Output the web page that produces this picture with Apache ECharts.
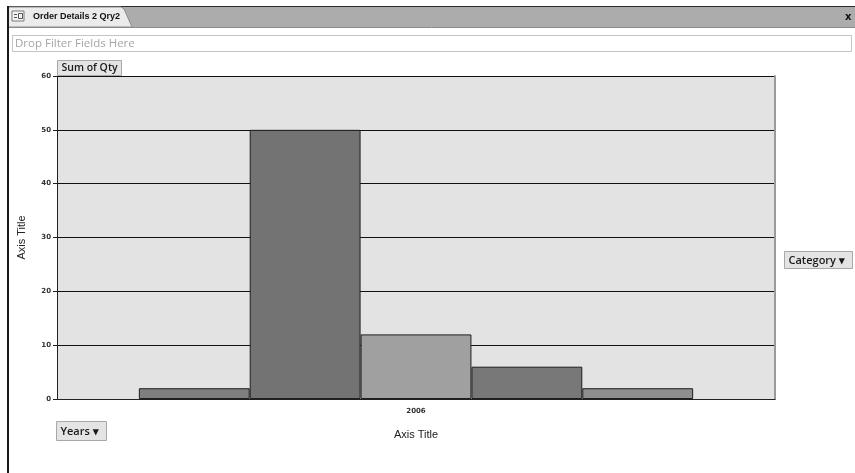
<!DOCTYPE html>
<html>
<head>
<meta charset="utf-8">
<script src="https://cdn.jsdelivr.net/npm/echarts@6/dist/echarts.min.js"></script>
<style>
html,body{margin:0;padding:0;background:#fff;}
#chart{width:855px;height:473px;}
</style>
</head>
<body>
<div id="chart"></div>
<script>
// ---- data ----
var categories = ['2006'];
var seriesNames = ['Category 1', 'Category 2', 'Category 3', 'Category 4', 'Category 5'];
var seriesValues = [[2], [50], [12], [6], [2]];
var seriesColors = ['#7f7f7f', '#737373', '#a0a0a0', '#787878', '#8f8f8f'];
var yTicks = { min: 0, max: 60, interval: 10 };
var axisTitleX = 'Axis Title';
var axisTitleY = 'Axis Title';
var tabTitle = 'Order Details 2 Qry2';
var filterText = 'Drop Filter Fields Here';
var dataFieldLabel = 'Sum of Qty';
var seriesFieldLabel = 'Category \u25BE';
var categoryFieldLabel = 'Years \u25BE';

var chart = echarts.init(document.getElementById('chart'), null, { renderer: 'canvas' });

var series = seriesNames.map(function (name, i) {
  return {
    name: name,
    type: 'bar',
    data: seriesValues[i],
    barGap: '0%',
    barCategoryGap: '22.8%',
    itemStyle: { color: seriesColors[i], borderColor: '#1e1e1e', borderWidth: 1 },
    emphasis: { disabled: true }
  };
});

var labelFont = { fontFamily: 'DejaVu Sans', fontSize: 7, color: '#333', fontWeight: 'bold' };

function button(x, y, w, h, text, fontSize) {
  return [
    { type: 'rect', shape: { x: x, y: y, width: w, height: h },
      style: { fill: '#e4e4e4', stroke: '#a8a8a8', lineWidth: 1 }, z: 10 },
    { type: 'text', x: x + 4, y: y + h / 2 + 0.5,
      style: { text: text, fontFamily: 'Open Sans', fontSize: fontSize, fontWeight: 600,
        fill: '#1a1a1a', textVerticalAlign: 'middle', verticalAlign: 'middle' }, z: 11 }
  ];
}

var graphics = [
  // tab bar
  { type: 'rect', shape: { x: 8, y: 6, width: 847, height: 21 }, style: { fill: '#acacac' } },
  { type: 'line', shape: { x1: 7, y1: 6.5, x2: 855, y2: 6.5 }, style: { stroke: '#2a2a2a', lineWidth: 1 } },
  { type: 'line', shape: { x1: 8, y1: 27.5, x2: 855, y2: 27.5 }, style: { stroke: '#8a8a8a', lineWidth: 1 } },
  { type: 'polygon', shape: { points: [[8, 7], [121, 7], [124, 9], [132, 27], [8, 27]] },
    style: { fill: '#ebebeb', stroke: '#8c8c8c', lineWidth: 1 } },
  // icon
  { type: 'rect', shape: { x: 12, y: 11, width: 12, height: 10 }, style: { fill: '#f4f4f4', stroke: '#7a7a7a', lineWidth: 1 } },
  { type: 'line', shape: { x1: 14, y1: 14.5, x2: 17, y2: 14.5 }, style: { stroke: '#555' } },
  { type: 'line', shape: { x1: 14, y1: 17.5, x2: 17, y2: 17.5 }, style: { stroke: '#555' } },
  { type: 'rect', shape: { x: 18.5, y: 13.5, width: 4, height: 5 }, style: { fill: 'none', stroke: '#555' } },
  { type: 'text', x: 33, y: 17, style: { text: tabTitle, fontFamily: 'Liberation Sans', fontSize: 9, fontWeight: 'bold',
      fill: '#111', verticalAlign: 'middle', textVerticalAlign: 'middle' } },
  { type: 'text', x: 845, y: 17, style: { text: 'x', fontFamily: 'DejaVu Sans', fontSize: 10, fontWeight: 'bold',
      fill: '#111', verticalAlign: 'middle', textVerticalAlign: 'middle' } },
  // left window border
  { type: 'rect', shape: { x: 7, y: 6, width: 2, height: 467 }, style: { fill: '#1a1a1a' } },
  // filter box
  { type: 'rect', shape: { x: 12.5, y: 35.5, width: 839, height: 16 }, style: { fill: '#fff', stroke: '#c4c4c4', lineWidth: 1 } },
  { type: 'text', x: 15, y: 44, style: { text: filterText, fontFamily: 'Open Sans', fontSize: 11.5,
      fill: '#a5a5a5', verticalAlign: 'middle', textVerticalAlign: 'middle' } }
]
.concat(button(57.5, 60.5, 64, 15, dataFieldLabel, 10.5))
.concat(button(784.5, 251.5, 68, 17, seriesFieldLabel, 11))
.concat(button(56.5, 421.5, 50, 19, categoryFieldLabel, 11));

var option = {
  animation: false,
  backgroundColor: '#ffffff',
  grid: {
    left: 57, right: 80, top: 76, bottom: 74,
    show: true, backgroundColor: '#e3e3e3', borderWidth: 0
  },
  xAxis: {
    type: 'category',
    data: categories,
    name: axisTitleX,
    nameLocation: 'middle',
    nameGap: 30,
    nameTextStyle: { fontFamily: 'Liberation Sans', fontSize: 11, color: '#222' },
    axisLine: { lineStyle: { color: '#222', width: 1 } },
    axisTick: { show: false },
    axisLabel: Object.assign({ margin: 9 }, labelFont),
    splitLine: { show: false }
  },
  yAxis: [{
    type: 'value',
    min: yTicks.min, max: yTicks.max, interval: yTicks.interval,
    name: axisTitleY,
    nameLocation: 'middle',
    nameGap: 30,
    nameTextStyle: { fontFamily: 'Liberation Sans', fontSize: 11, color: '#222' },
    axisLine: { show: true, lineStyle: { color: '#222', width: 1 } },
    axisTick: { show: true, length: 4, lineStyle: { color: '#222' } },
    axisLabel: Object.assign({ margin: 6 }, labelFont),
    splitLine: { show: true, lineStyle: { color: '#111', width: 1 } }
  }, {
    type: 'value',
    position: 'right',
    min: yTicks.min, max: yTicks.max, interval: yTicks.interval,
    axisLine: { show: true, lineStyle: { color: '#9a9a9a', width: 2 } },
    axisTick: { show: false },
    axisLabel: { show: false },
    splitLine: { show: false }
  }],
  series: series,
  graphic: graphics
};

chart.setOption(option);
</script>
</body>
</html>
